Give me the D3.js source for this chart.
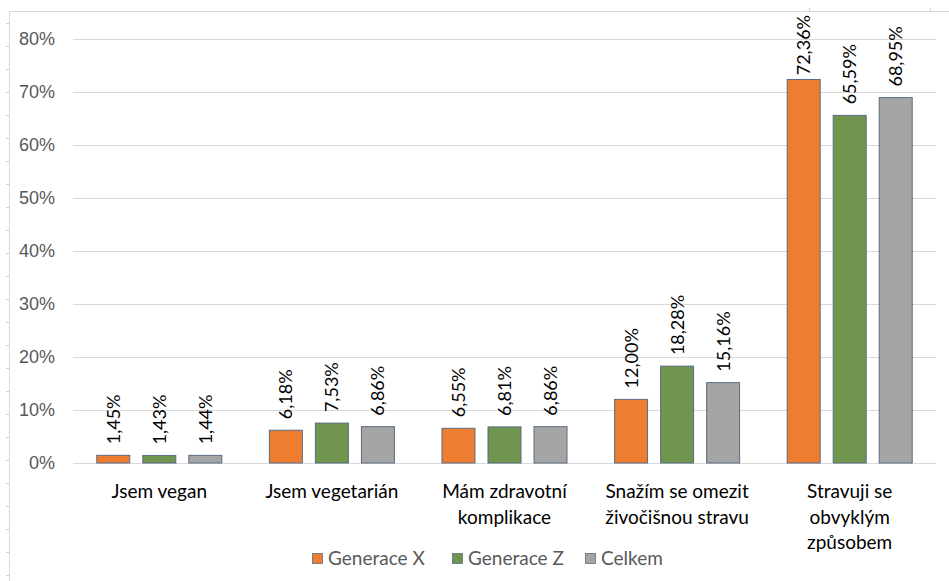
<!DOCTYPE html>
<html>
<head>
<meta charset="utf-8">
<script src="https://cdn.jsdelivr.net/npm/d3@7"></script>
<style>
  body { margin: 0; background: #fff; }
  svg { font-family: Lato, "Open Sans", sans-serif; }
</style>
</head>
<body>
<svg id="chart" width="949" height="581"></svg>
<script>
// categories and series
const categories = [
  ["Jsem vegan"],
  ["Jsem vegetarián"],
  ["Mám zdravotní", "komplikace"],
  ["Snažím se omezit", "živočišnou stravu"],
  ["Stravuji se", "obvyklým", "způsobem"]
];
const seriesNames = ["Generace X", "Generace Z", "Celkem"];
const generaceX = [1.45, 6.18, 6.55, 12.00, 72.36];
const generaceZ = [1.43, 7.53, 6.81, 18.28, 65.59];
const celkem = [1.44, 6.86, 6.86, 15.16, 68.95];
const yTicks = [0, 10, 20, 30, 40, 50, 60, 70, 80];
const colors = ["#ED7D31", "#6F954F", "#A5A5A5"];

const series = [generaceX, generaceZ, celkem];

const svg = d3.select("#chart");
const plotLeft = 73, plotRight = 936, plotTop = 39, plotBottom = 463;

// chart frame
svg.append("path")
  .attr("d", "M9.5,581 V11.5 H949")
  .attr("fill", "none")
  .attr("stroke", "#d9d9d9");
// little row / column markers outside the frame
d3.range(23, 581, 23).forEach(yy => {
  svg.append("line").attr("x1", 6).attr("x2", 9).attr("y1", yy + 0.5).attr("y2", yy + 0.5)
    .attr("stroke", "#d0d0d0");
});
[809, 930].forEach(xx => {
  svg.append("line").attr("x1", xx + 0.5).attr("x2", xx + 0.5).attr("y1", 8).attr("y2", 11)
    .attr("stroke", "#d0d0d0");
});

const x0 = d3.scaleBand()
  .domain(d3.range(categories.length))
  .range([plotLeft, plotRight])
  .padding(0);

const x1 = d3.scaleBand()
  .domain(d3.range(seriesNames.length))
  .range([0, x0.bandwidth()])
  .paddingInner(0.283)
  .paddingOuter(0.517);

const y = d3.scaleLinear().domain([0, 80]).range([plotBottom, plotTop]);

// grid + y labels
const yAxis = d3.axisLeft(y)
  .tickValues(yTicks)
  .tickSize(-(plotRight - plotLeft))
  .tickPadding(18)
  .tickFormat(d => d + "%");
const ga = svg.append("g").attr("transform", `translate(${plotLeft},0)`).call(yAxis);
ga.select(".domain").remove();
ga.selectAll(".tick line").attr("stroke", "#d9d9d9");
ga.selectAll(".tick text")
  .attr("fill", "#595959")
  .style("font-size", "18px");

// bars
const groups = svg.append("g").selectAll("g")
  .data(categories)
  .join("g")
  .attr("transform", (d, i) => `translate(${x0(i)},0)`);

groups.each(function (cat, ci) {
  const g = d3.select(this);
  seriesNames.forEach((name, si) => {
    const v = series[si][ci];
    g.append("rect")
      .attr("x", x1(si))
      .attr("y", y(v))
      .attr("width", x1.bandwidth())
      .attr("height", y(0) - y(v))
      .attr("fill", colors[si])
      .attr("stroke", "#5b6b82")
      .attr("stroke-width", 1);
    const cx = x1(si) + x1.bandwidth() / 2;
    const lab = g.append("text")
      .attr("dy", "0.36em")
      .attr("text-anchor", "start")
      .attr("fill", "#000")
      .style("font-size", "18px")
      .text(v.toFixed(2).replace(".", ",") + "%");
    // keep label inside chart area (like excel does for the tallest bar)
    const len = lab.node().getComputedTextLength();
    const start = Math.max(y(v) - 11, 15 + len);
    lab.attr("transform", `translate(${cx},${start}) rotate(-90)`);
  });
  const t = g.append("text")
    .attr("text-anchor", "middle")
    .attr("fill", "#000")
    .style("font-size", "19px");
  cat.forEach((line, li) => {
    t.append("tspan")
      .attr("x", x0.bandwidth() / 2)
      .attr("y", 498 + li * 25.5)
      .text(line);
  });
});

// legend
const legendX = [312, 452, 585];
const lg = svg.append("g").selectAll("g")
  .data(seriesNames)
  .join("g")
  .attr("transform", (d, i) => `translate(${legendX[i]},553)`);
lg.append("rect")
  .attr("x", 0.5).attr("y", 0.5)
  .attr("width", 10).attr("height", 10)
  .attr("fill", (d, i) => colors[i])
  .attr("stroke", "#5b6b82")
  .attr("stroke-width", 0.8);
lg.append("text")
  .attr("x", 16)
  .attr("y", 12)
  .attr("fill", "#595959")
  .style("font-size", "19px")
  .text(d => d);
</script>
</body>
</html>
